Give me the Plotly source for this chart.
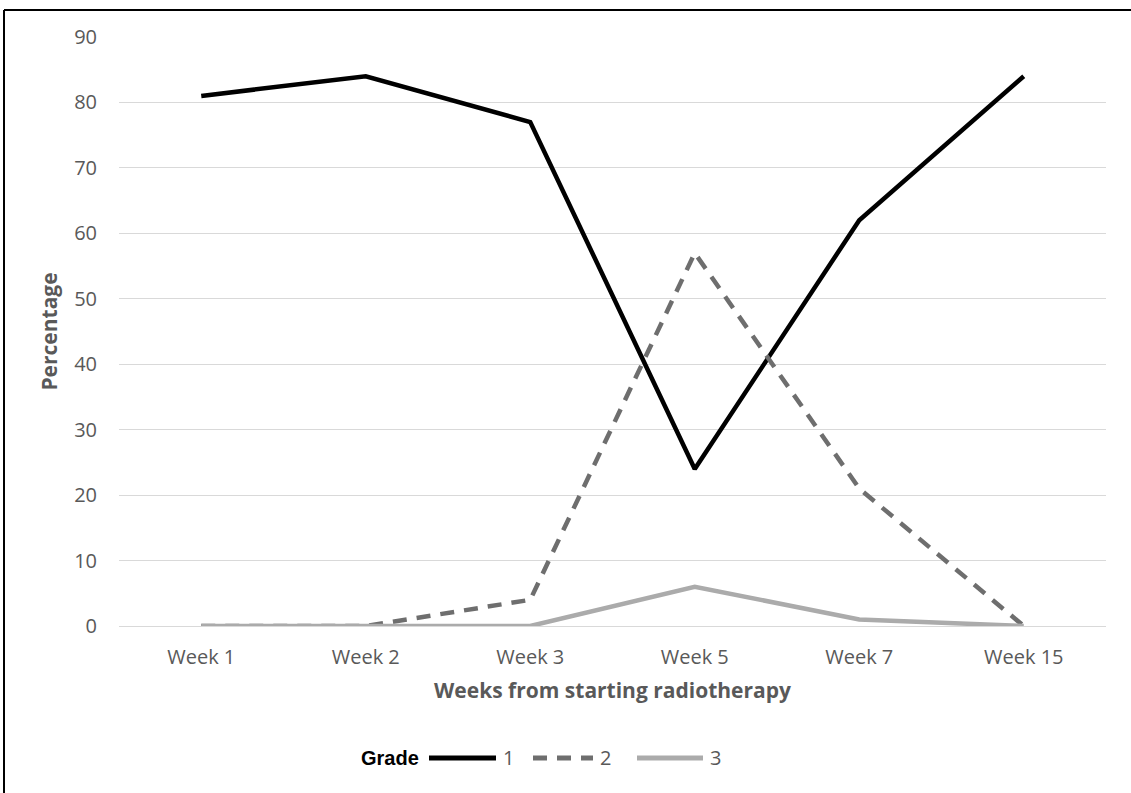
import plotly.graph_objects as go

weeks = ["Week 1", "Week 2", "Week 3", "Week 5", "Week 7", "Week 15"]
grade1 = [81, 84, 77, 24, 62, 84]
grade2 = [0, 0, 4, 57, 21, 0]
grade3 = [0, 0, 0, 6, 1, 0]
y_ticks = [0, 10, 20, 30, 40, 50, 60, 70, 80, 90]
grade_names = ["1", "2", "3"]
grade_colors = ["#000000", "#6e6e6e", "#ababab"]
grade_dash = ["solid", "14px,10px", "solid"]

fig = go.Figure()
for name, vals, col, dsh in zip(grade_names, [grade1, grade2, grade3], grade_colors, grade_dash):
    fig.add_trace(go.Scatter(x=weeks, y=vals, name=name, mode="lines", showlegend=False,
                             line=dict(color=col, width=4.5, dash=dsh)))

L, R, T, B = 119, 25, 37, 167
W, H = 1131, 793
pw, ph = W - L - R, H - T - B

def px(x):
    return (x - L) / pw

def py(y):
    return (H - B - y) / ph

shapes = [
    dict(type="line", xref="paper", yref="paper", x0=px(4), x1=px(1131), y0=py(10), y1=py(10),
         line=dict(color="#000000", width=2)),
    dict(type="line", xref="paper", yref="paper", x0=px(4), x1=px(4), y0=py(10), y1=py(793),
         line=dict(color="#000000", width=2)),
]
annotations = [
    dict(text="<b>Grade</b>", xref="paper", yref="paper", x=px(421), y=py(758),
         xanchor="right", yanchor="middle", showarrow=False,
         font=dict(family="Liberation Sans", size=20, color="#000000")),
]
leg_x = [(429, 496), (533, 593), (637, 703)]
for name, col, dsh, (a, b) in zip(grade_names, grade_colors, grade_dash, leg_x):
    shapes.append(dict(type="line", xref="paper", yref="paper", x0=px(a), x1=px(b),
                       y0=py(758), y1=py(758), line=dict(color=col, width=5, dash=dsh)))
    annotations.append(dict(text=name, xref="paper", yref="paper", x=px(b + 5), y=py(758),
                            xanchor="left", yanchor="middle", showarrow=False,
                            font=dict(family="Open Sans", size=20, color="#595959")))

fig.update_layout(
    width=W, height=H,
    margin=dict(l=L, r=R, t=T, b=B),
    paper_bgcolor="white", plot_bgcolor="white",
    font=dict(family="Open Sans", color="#595959", size=20),
    showlegend=False,
    xaxis=dict(
        type="category", range=[-0.5, 5.5], showgrid=False, showline=False, zeroline=False,
        ticks="", ticklabelstandoff=17, tickfont=dict(size=20, color="#595959"),
        title=dict(text="<b>Weeks from starting radiotherapy</b>",
                   font=dict(size=21, color="#595959"), standoff=14),
    ),
    yaxis=dict(
        range=[0, 90], tickvals=y_ticks, showgrid=True, gridcolor="#d9d9d9",
        gridwidth=1, zeroline=True, zerolinecolor="#d9d9d9", zerolinewidth=1,
        showline=False, ticks="", ticklabelstandoff=21,
        tickfont=dict(size=20, color="#595959"),
        title=dict(text="<b>Percentage</b>", font=dict(size=21, color="#595959"),
                   standoff=10),
    ),
    shapes=shapes,
    annotations=annotations,
)

fig.write_html("out.html", config={"displayModeBar": False},
               post_script="document.body.style.margin='0';")
